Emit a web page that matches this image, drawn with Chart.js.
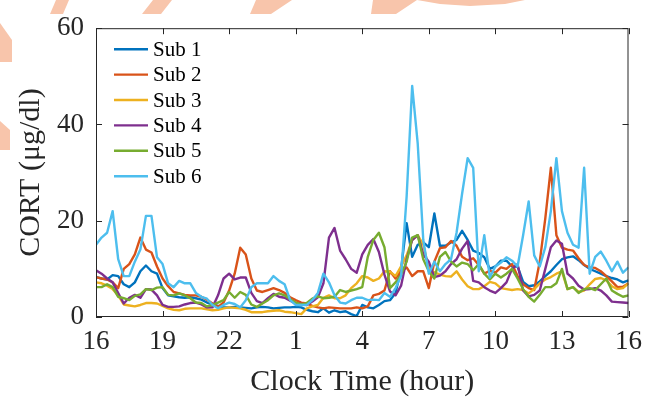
<!DOCTYPE html>
<html>
<head>
<meta charset="utf-8">
<script src="https://cdn.jsdelivr.net/npm/chart.js@4.4.1/dist/chart.umd.min.js"></script>
<style>
  html, body { margin: 0; padding: 0; background: #fff; }
</style>
</head>
<body>
<canvas id="cortChart" width="651" height="397"></canvas>
<script>
"use strict";

// sampling: one value every 15 min, starting at 16:00
const startHour = 16;
const stepHours = 0.25;
const yTicks = [0, 20, 40, 60];
const xTickStep = 3;

const subNames = ['Sub 1', 'Sub 2', 'Sub 3', 'Sub 4', 'Sub 5', 'Sub 6'];
const subColors = ['#0072BD', '#D95319', '#EDB120', '#7E2F8E', '#77AC30', '#4DBEEE'];

const sub1 = [8.3, 8, 7.8, 8.7, 8.5, 6.8, 6.2, 7.2, 9.5, 10.7,
    9.5, 9, 6, 4.5, 4.3, 4.1, 4, 4.1, 3.9, 3.6,
    3, 2.6, 2.3, 2, 2, 2.1, 2, 1.9, 1.8, 2,
    2.1, 2, 1.8, 1.9, 2, 2, 2.1, 2, 1.5, 1.2,
    1, 1.8, 0.9, 1.4, 1, 1.2, 0.6, 0.2, 2.5, 2,
    1.8, 2.5, 3.3, 3.5, 5, 10, 19.5, 12.5, 15, 15.5,
    14.5, 21.5, 14.8, 14.8, 15.5, 16, 17.9, 16, 13.8, 13.3,
    12.4, 10, 10.5, 11.7, 11.7, 10.5, 10.5, 7.3, 6.4, 6.6,
    7.4, 8.5, 9.5, 10.8, 12, 12.4, 12.6, 11.8, 10.8, 10,
    9.5, 9, 8.5, 8.1, 7.8, 7.2, 7.6];

const sub2 = [8.3, 8, 7.8, 7.2, 6, 10, 11, 13, 16.5, 14,
    13.4, 10.5, 8, 6.4, 5.2, 4.9, 4.6, 4.5, 4.5, 4.2,
    3.6, 2.8, 2.1, 3, 5.5, 9, 14.4, 13, 8, 5.5,
    5.2, 5.6, 6, 5.6, 5, 4.1, 3.5, 3, 2.8, 2.3,
    2, 1.8, 2, 1.9, 1.8, 1.8, 1.8, 2, 1.8, 2.2,
    4.5, 4.8, 5.5, 9.5, 8, 9.5, 10.3, 8.5, 9.5, 9.5,
    6, 11.5, 14.3, 14.5, 15.8, 14.8, 12.5, 11.8, 12.2, 10.8,
    9, 9.6, 9.2, 10.3, 10, 11, 8.5, 6.8, 6, 5.6,
    11.5, 20.5, 31, 17, 14.4, 14, 13.8, 12.2, 10.8, 10.3,
    10.2, 9.5, 8.5, 7.4, 6.2, 6.3, 7];

const sub3 = [7.2, 7, 6.5, 5.8, 4.5, 2.6, 2.4, 2.2, 2.5, 2.9,
    2.9, 2.8, 2.3, 1.8, 1.5, 1.4, 1.7, 1.8, 1.8, 1.8,
    1.6, 1.4, 1.5, 1.8, 2, 1.9, 1.8, 1.5, 1, 1,
    1, 1.2, 1.3, 1.4, 1.1, 1, 0.8, 0.6, 1.8, 2.2,
    2.5, 4, 4.5, 3.9, 3.9, 4.5, 6, 7, 8.5, 8.2,
    7.5, 8, 9.5, 9.4, 8.5, 10.5, 12.8, 16, 17, 15,
    10, 9.3, 8.8, 8.5, 8.4, 9.5, 7.8, 6.4, 5.8, 5.8,
    6.4, 7.3, 7, 6, 5.8, 5.6, 5.8, 5.6, 4.9, 5.8,
    7, 7.8, 8.3, 9, 9.5, 5.8, 6.2, 5.2, 5.5, 6.8,
    7.9, 8.1, 7.6, 6.4, 5.8, 6, 7];

const sub4 = [9.7, 9, 8, 7.2, 5, 2.8, 4, 4.6, 4, 5.8,
    5.7, 4.5, 2.5, 2.1, 2.1, 2.2, 2.6, 2.9, 3, 2.6,
    2, 2, 4.5, 8, 9, 7.8, 8.2, 8.2, 5, 3.3,
    2.9, 3.9, 4.8, 4.2, 4, 3.4, 2.8, 2.7, 2.5, 3.2,
    4.1, 7, 16.5, 18.5, 13.8, 12, 10, 9.2, 13, 15,
    16.2, 13.5, 8.8, 5.3, 4.5, 6.5, 12, 16, 17, 13,
    11.5, 8.3, 8.6, 9.5, 11, 12, 14.2, 15.8, 7.5, 7.2,
    6.2, 5.5, 5, 6, 7.2, 10, 11, 5.5, 4.3, 4.6,
    5.5, 10, 14.5, 15.9, 15.2, 9, 8, 6.5, 5.7, 5.8,
    6, 5.5, 4.5, 3.2, 3.1, 3, 2.9];

const sub5 = [6.2, 6.2, 6.8, 6.2, 4.2, 3.9, 3.5, 4.4, 4.7, 5.8,
    5.6, 6.1, 6.2, 4.6, 4.5, 4.9, 4.5, 3.9, 3, 2.9,
    2.2, 2.5, 3, 3.5, 5.2, 4, 5.2, 4.6, 2.6, 2.1,
    2.8, 3.5, 4.5, 4.9, 4.5, 3.7, 3, 2.6, 2.9, 3.8,
    4.3, 3.9, 4, 4.2, 5.6, 5.2, 5.5, 5.8, 6.2, 12.5,
    16, 17.5, 14.5, 6, 7.2, 8.8, 11.5, 16.5, 17, 12,
    9.5, 8, 12.5, 13.5, 11.5, 10.5, 11.3, 11, 9.7, 11,
    9, 7.8, 9, 8.2, 9, 10, 8, 5.8, 4.2, 3.2,
    4.6, 6.2, 6.2, 7, 10, 5.8, 6.2, 5, 5.8, 6,
    5.6, 6.8, 8, 5.5, 4.8, 4.2, 4.5];

const sub6 = [15, 16.5, 17.5, 22, 12, 8.5, 8.5, 11.5, 14, 21,
    21, 12.4, 11, 7, 6.2, 7.5, 7, 7, 5, 4.2,
    3.8, 2.5, 1.8, 2.5, 3, 2.7, 2, 3.5, 6.2, 7,
    7, 7, 8.5, 7.5, 6.8, 3.5, 2.5, 2.5, 2.5, 3.5,
    5, 9, 7.2, 4.5, 3, 2.8, 3.5, 4, 4, 3.5,
    3.6, 3.5, 5, 4.2, 6, 8.5, 25, 48, 36, 16,
    9, 11.5, 9.5, 11, 12, 17.5, 25.6, 33, 31, 9.5,
    17, 8.2, 10.5, 11.3, 12.4, 11.7, 10.5, 17, 24, 12.8,
    10.5, 14.5, 22, 33, 22, 17.5, 15, 14.4, 31, 9,
    12.5, 13.6, 11.7, 9.5, 11.5, 9.2, 10.3];

const allSubs = [sub1, sub2, sub3, sub4, sub5, sub6];

const txtColor = '#262626';
const serif = '"Liberation Serif", "Times New Roman", serif';

// pale watermark strokes behind the plot
const watermark = {
    id: 'watermark',
    beforeDraw(chart) {
        const ctx = chart.ctx;
        const shapes = [
            [[56, 0], [69, 0], [63, 14], [50, 14]],
            [[153, 0], [172, 0], [161, 14], [142, 14]],
            [[256, 0], [292, 0], [271, 14], [250, 14]],
            [[373, 0], [417, 0], [396, 14], [371, 14]],
            [[417, 0], [525, 0], [505, 4], [470, 6], [440, 4]],
            [[0, 23], [12, 40], [12, 62], [0, 62]],
            [[0, 121], [10, 130], [10, 150], [0, 150]]
        ];
        ctx.save();
        ctx.fillStyle = '#f8c5ab';
        shapes.forEach(s => {
            ctx.beginPath();
            s.forEach((p, k) => k ? ctx.lineTo(p[0], p[1]) : ctx.moveTo(p[0], p[1]));
            ctx.closePath();
            ctx.fill();
        });
        ctx.restore();
    }
};

// matlab style box with inward ticks on all 4 sides
const frame = {
    id: 'frame',
    afterDatasetsDraw(chart) {
        const {ctx, chartArea: a, scales} = chart;
        const tl = 6;
        ctx.save();
        ctx.strokeStyle = txtColor;
        ctx.lineWidth = 1;
        ctx.beginPath();
        ctx.rect(a.left + 0.5, a.top + 0.5, a.width - 1, a.height - 1);
        scales.x.ticks.forEach(t => {
            const px = Math.round(scales.x.getPixelForValue(t.value)) + 0.5;
            ctx.moveTo(px, a.bottom);
            ctx.lineTo(px, a.bottom - tl);
            ctx.moveTo(px, a.top);
            ctx.lineTo(px, a.top + tl);
        });
        scales.y.ticks.forEach(t => {
            const py = Math.round(scales.y.getPixelForValue(t.value)) + 0.5;
            ctx.moveTo(a.left, py);
            ctx.lineTo(a.left + tl, py);
            ctx.moveTo(a.right, py);
            ctx.lineTo(a.right - tl, py);
        });
        ctx.stroke();
        ctx.restore();
    }
};

// legend inside the axes, top left, no box
const innerLegend = {
    id: 'innerLegend',
    afterDraw(chart) {
        const {ctx, chartArea: a} = chart;
        ctx.save();
        ctx.font = '21px ' + serif;
        ctx.textBaseline = 'middle';
        ctx.textAlign = 'left';
        chart.data.datasets.forEach((ds, i) => {
            const yy = a.top + 21 + i * 25.4;
            ctx.strokeStyle = ds.borderColor;
            ctx.lineWidth = 2.4;
            ctx.beginPath();
            ctx.moveTo(a.left + 18, yy);
            ctx.lineTo(a.left + 52, yy);
            ctx.stroke();
            ctx.fillStyle = '#000';
            ctx.fillText(ds.label, a.left + 57, yy + 1);
        });
        ctx.restore();
    }
};

const datasets = allSubs.map((vals, i) => ({
    label: subNames[i],
    data: vals.map((v, k) => ({x: k * stepHours, y: v})),
    borderColor: subColors[i],
    backgroundColor: subColors[i],
    borderWidth: 2.4,
    pointRadius: 0,
    tension: 0,
    borderJoinStyle: 'round',
    order: allSubs.length - i
}));

const config = {
    type: 'line',
    data: {datasets: datasets},
    options: {
        responsive: false,
        animation: false,
        devicePixelRatio: 1,
        layout: {padding: {top: 26, right: 15, bottom: 0, left: 0}},
        plugins: {
            legend: {display: false},
            tooltip: {enabled: false}
        },
        scales: {
            x: {
                type: 'linear',
                min: 0,
                max: 24,
                afterFit: s => { s.height = 80; },
                afterBuildTicks: s => {
                    s.ticks = [];
                    for (let h = 0; h <= 24; h += xTickStep) s.ticks.push({value: h});
                },
                ticks: {
                    color: txtColor,
                    padding: 9,
                    maxRotation: 0,
                    font: {family: serif, size: 27},
                    callback: v => (startHour + v) % 24
                },
                grid: {display: false, drawTicks: false},
                border: {display: false},
                title: {
                    display: true,
                    text: 'Clock Time (hour)',
                    color: txtColor,
                    font: {family: serif, size: 30, lineHeight: 1},
                    padding: {top: 0, bottom: 0}
                }
            },
            y: {
                min: 0,
                max: 60,
                afterFit: s => { s.width = 96; },
                afterBuildTicks: s => { s.ticks = yTicks.map(v => ({value: v})); },
                ticks: {
                    color: txtColor,
                    padding: 12,
                    font: {family: serif, size: 27}
                },
                grid: {display: false, drawTicks: false},
                border: {display: false},
                title: {
                    display: true,
                    text: 'CORT (μg/dl)',
                    color: txtColor,
                    font: {family: serif, size: 30, lineHeight: 1},
                    padding: {top: 16, bottom: 0}
                }
            }
        }
    },
    plugins: [watermark, frame, innerLegend]
};

const cortChart = new Chart(document.getElementById('cortChart'), config);
</script>
</body>
</html>
